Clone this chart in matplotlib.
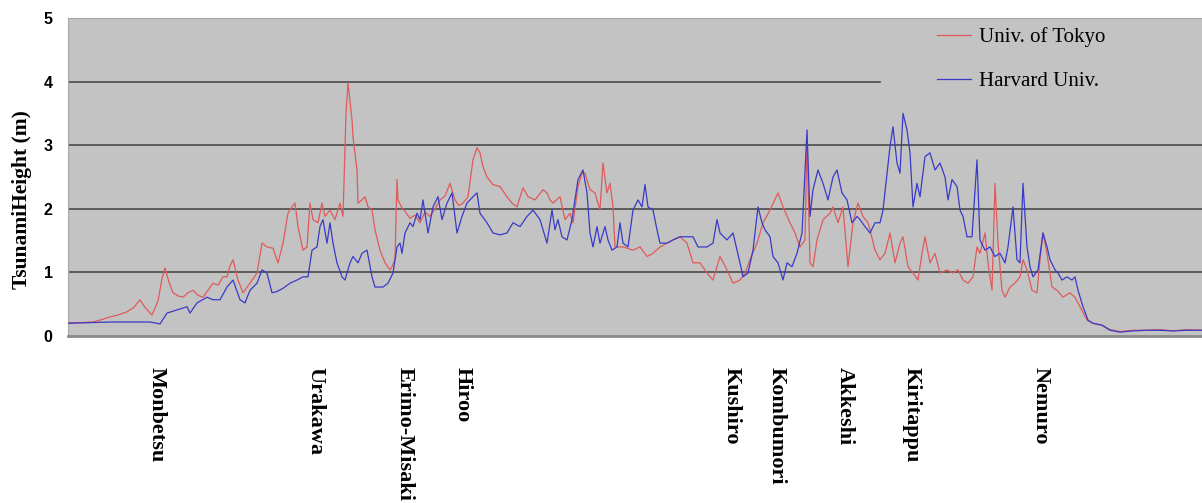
import matplotlib
matplotlib.use("Agg")
import matplotlib.pyplot as plt

# (distance along coast, tsunami height in m)
tokyo = [
    (0, .21), (12, .21), (25, .22), (32, .25), (42, .3), (50, .33), (59, .38), (66, .45),
    (72, .57), (77, .45), (84, .33), (90, .55), (94, .9), (97, 1.07), (101, .85), (105, .68),
    (110, .63), (115, .61), (120, .68), (125, .72), (130, .64), (135, .61), (140, .72),
    (145, .83), (150, .8), (155, .93), (159, .93), (162, 1.1), (165, 1.2), (170, .88),
    (175, .68), (182, .83), (189, .99), (194, 1.46), (199, 1.4), (205, 1.38), (210, 1.15),
    (215, 1.46), (220, 1.93), (224, 2.03), (227, 2.09), (230, 1.72), (235, 1.35), (239, 1.4),
    (242, 2.09), (245, 1.83), (250, 1.78), (254, 2.09), (257, 1.88), (262, 1.98), (267, 1.83),
    (272, 2.09), (275, 1.88), (278, 3.5), (280, 3.98), (284, 3.4), (285, 3.13), (289, 2.61),
    (290, 2.09), (294, 2.14), (297, 2.19), (300, 2.03), (304, 1.98), (307, 1.67), (312, 1.35),
    (317, 1.15), (322, 1.04), (324, 1.09), (327, 1.2), (329, 2.46), (330, 2.14), (334, 2.01),
    (337, 1.96), (342, 1.85), (347, 1.9), (352, 1.78), (357, 1.95), (362, 1.88), (367, 2.0),
    (372, 2.14), (377, 2.2), (382, 2.4), (387, 2.14), (391, 2.05), (395, 2.09), (400, 2.19),
    (405, 2.77), (409, 2.96), (412, 2.88), (415, 2.66), (419, 2.5), (425, 2.38), (432, 2.35),
    (439, 2.19), (444, 2.09), (449, 2.03), (455, 2.33), (460, 2.19), (467, 2.14), (475, 2.3),
    (479, 2.25), (482, 2.14), (485, 2.09), (492, 2.19), (497, 1.83), (502, 1.93), (505, 1.78),
    (510, 2.35), (514, 2.56), (517, 2.56), (522, 2.3), (527, 2.25), (532, 1.98), (535, 2.72),
    (539, 2.25), (542, 2.4), (545, 2.03), (547, 1.4), (555, 1.4), (565, 1.35), (572, 1.4),
    (579, 1.25), (585, 1.3), (592, 1.4), (599, 1.46), (605, 1.51), (612, 1.56), (619, 1.46),
    (625, 1.15), (632, 1.15), (639, .99), (645, .88), (652, 1.25), (659, 1.04), (665, .83),
    (672, .88), (677, .99), (682, 1.2), (689, 1.46), (695, 1.78), (702, 1.98), (710, 2.25),
    (715, 2.03), (722, 1.78), (727, 1.62), (732, 1.4), (737, 1.51), (739, 3.1), (742, 1.15),
    (745, 1.09), (749, 1.51), (755, 1.83), (762, 1.93), (765, 2.03), (770, 1.78), (775, 2.03),
    (780, 1.09), (785, 1.78), (790, 2.09), (795, 1.88), (800, 1.78), (802, 1.67), (807, 1.35),
    (812, 1.2), (817, 1.3), (822, 1.62), (827, 1.15), (832, 1.46), (835, 1.56), (840, 1.09),
    (845, .99), (850, .88), (854, 1.3), (857, 1.56), (862, 1.15), (867, 1.3), (872, .99),
    (879, 1.04), (885, .99), (890, 1.04), (895, .88), (900, .83), (905, .93), (909, 1.4),
    (912, 1.3), (917, 1.62), (920, 1.15), (924, .72), (927, 2.4), (930, 1.46), (934, .72),
    (937, .61), (942, .77), (947, .83), (952, .93), (955, 1.2), (959, 1.04), (964, .72),
    (969, .68), (972, 1.2), (975, 1.62), (979, 1.3), (984, .77), (989, .72), (995, .61),
    (1002, .68), (1007, .61), (1012, .46), (1019, .25), (1025, .2), (1034, .17), (1042, .1),
    (1052, .07), (1065, .09), (1079, .09), (1092, .1), (1105, .08), (1119, .1), (1134, .09),
]

harvard = [
    (0, .2), (22, .21), (42, .22), (62, .22), (82, .22), (92, .19), (99, .36), (109, .41),
    (119, .46), (122, .36), (129, .52), (139, .61), (145, .57), (152, .57), (159, .77),
    (165, .88), (172, .57), (177, .52), (182, .72), (189, .83), (194, 1.04), (199, .99),
    (204, .68), (209, .7), (215, .75), (222, .83), (229, .88), (235, .93), (240, .93),
    (244, 1.35), (249, 1.4), (252, 1.72), (255, 1.83), (259, 1.46), (262, 1.78), (265, 1.46),
    (269, 1.15), (274, .93), (277, .88), (282, 1.15), (285, 1.25), (290, 1.15), (294, 1.3),
    (299, 1.35), (304, .93), (307, .77), (312, .77), (315, .77), (320, .83), (325, .99),
    (329, 1.4), (332, 1.46), (334, 1.3), (337, 1.62), (342, 1.78), (345, 1.72), (349, 1.93),
    (352, 1.83), (355, 2.14), (360, 1.62), (365, 2.03), (370, 2.19), (374, 1.83), (379, 2.09),
    (384, 2.25), (389, 1.62), (394, 1.88), (399, 2.09), (405, 2.19), (409, 2.25), (412, 1.93),
    (419, 1.78), (425, 1.62), (432, 1.59), (439, 1.62), (445, 1.78), (452, 1.72), (459, 1.88),
    (465, 1.98), (472, 1.83), (475, 1.67), (479, 1.46), (484, 1.98), (487, 1.67), (490, 1.83),
    (494, 1.56), (499, 1.51), (504, 1.83), (507, 2.14), (510, 2.46), (515, 2.61), (519, 2.25),
    (522, 1.62), (525, 1.4), (529, 1.72), (532, 1.46), (537, 1.72), (540, 1.51), (544, 1.35),
    (549, 1.4), (552, 1.78), (555, 1.46), (560, 1.4), (565, 1.98), (570, 2.14), (574, 2.03),
    (577, 2.38), (580, 2.03), (585, 1.98), (589, 1.67), (592, 1.46), (599, 1.46), (605, 1.51),
    (612, 1.56), (619, 1.56), (625, 1.56), (630, 1.4), (635, 1.4), (639, 1.4), (645, 1.46),
    (649, 1.83), (652, 1.62), (659, 1.51), (665, 1.62), (669, 1.35), (672, 1.15), (675, .93),
    (680, .99), (685, 1.35), (690, 2.03), (694, 1.78), (697, 1.67), (702, 1.56), (705, 1.25),
    (710, 1.15), (715, .88), (719, 1.15), (724, 1.09), (729, 1.3), (734, 1.62), (739, 3.24),
    (742, 1.88), (745, 2.3), (750, 2.61), (755, 2.4), (760, 2.14), (765, 2.5), (769, 2.61),
    (774, 2.25), (779, 2.14), (784, 1.78), (789, 1.88), (792, 1.83), (797, 1.72), (802, 1.62),
    (807, 1.78), (812, 1.78), (815, 1.98), (819, 2.56), (822, 2.98), (825, 3.29), (829, 2.72),
    (832, 2.56), (835, 3.5), (839, 3.24), (842, 2.88), (845, 2.03), (849, 2.4), (852, 2.19),
    (857, 2.82), (862, 2.88), (867, 2.61), (872, 2.72), (877, 2.5), (880, 2.14), (884, 2.46),
    (889, 2.35), (892, 1.98), (895, 1.88), (899, 1.56), (904, 1.56), (909, 2.77), (912, 1.51),
    (917, 1.35), (922, 1.4), (927, 1.25), (932, 1.3), (937, 1.15), (940, 1.4), (945, 2.03),
    (949, 1.2), (952, 1.15), (955, 2.4), (959, 1.4), (962, 1.09), (965, .93), (970, 1.04),
    (975, 1.62), (979, 1.4), (982, 1.2), (987, 1.04), (990, .99), (994, .88), (999, .93),
    (1004, .88), (1007, .93), (1010, .72), (1015, .46), (1020, .25), (1025, .2), (1034, .17),
    (1042, .09), (1052, .06), (1065, .08), (1079, .09), (1092, .09), (1105, .08), (1119, .09),
    (1134, .09),
]

stations = ["Monbetsu", "Urakawa", "Erimo-Misaki", "Hiroo", "Kushiro",
            "Kombumori", "Akkeshi", "Kiritappu", "Nemuro"]
station_pos = [89, 247, 337, 395, 664, 709, 777, 844, 973]

serif = "Liberation Serif"
sans = "Liberation Sans"

fig = plt.figure(figsize=(12.02, 5.03), dpi=100)
ax = fig.add_axes([68 / 1202, 1 - 336 / 503, 1 - 68 / 1202, 318 / 503])
ax.set_facecolor("#c3c3c3")

for h in [1, 2, 3]:
    ax.axhline(h, color="#4a4a4a", lw=1.2, zorder=1)
ax.axhline(4, xmax=0.716, color="#4a4a4a", lw=1.2, zorder=1)

tx, ty = zip(*tokyo)
hx, hy = zip(*harvard)
ax.plot(tx, ty, color="#e05a5a", lw=0.9, label="Univ. of Tokyo", zorder=2)
ax.plot(hx, hy, color="#3a3ac8", lw=0.9, label="Harvard Univ.", zorder=3)

ax.set(xlim=(0, 1134), ylim=(0, 5))
ax.set_xticks([])
ax.set_yticks(range(6))
ax.tick_params(axis="y", length=0, pad=11)
for lab in ax.get_yticklabels():
    lab.set_fontfamily(sans)
    lab.set_fontweight("bold")
    lab.set_fontsize(11.5)

ax.spines["right"].set_visible(False)
ax.spines["top"].set_color("#a8a8a8")
ax.spines["left"].set_color("#a8a8a8")
ax.spines["bottom"].set_color("#888888")
ax.spines["bottom"].set_linewidth(2)

fig.text(22 / 1202, 1 - 200 / 503, "TsunamiHeight (m)", rotation=90,
         ha="center", va="center", family=serif, weight="bold", fontsize=15.5)

for name, pos in zip(stations, station_pos):
    ax.text(pos, -0.097, name, transform=ax.get_xaxis_transform(),
            rotation=-90, ha="center", va="top", family=serif,
            weight="bold", fontsize=16, clip_on=False)

ax.legend(loc="upper left", bbox_to_anchor=(937 / 1202, 1 - 27 / 503),
          bbox_transform=fig.transFigure, frameon=False, borderpad=0,
          borderaxespad=0, handlelength=1.65, handletextpad=0.35,
          labelspacing=1.2, prop={"family": serif, "size": 15})

fig.savefig("out.png", dpi=100)
